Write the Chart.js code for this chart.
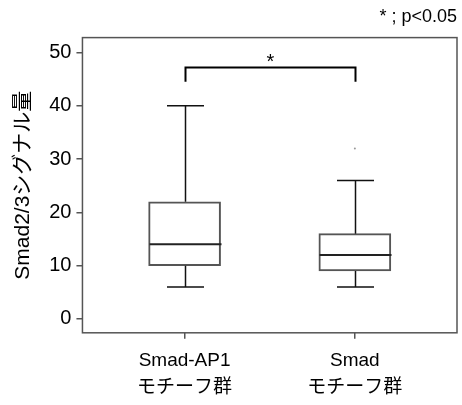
<!DOCTYPE html>
<html>
<head>
<meta charset="utf-8">
<script src="https://cdn.jsdelivr.net/npm/chart.js@4/dist/chart.umd.min.js"></script>
<style>
  body { margin: 0; background: #fff; }
</style>
</head>
<body>
<canvas id="myChart" width="462" height="405"></canvas>
<script>
// box plot values
var groups = [['Smad-AP1', 'モチーフ群'], ['Smad', 'モチーフ群']];
var groupPos = [1, 2];
var whiskerLow = [6, 6];
var q1 = [10, 9];
var median = [14, 12];
var q3 = [22, 16];
var whiskerHigh = [40, 26];
var outliers = [{ x: 2, y: 32 }];
var yTicks = [0, 10, 20, 30, 40, 50];
var sigPair = [1, 2];
var sigLabel = '*';

var FONT = "'Liberation Sans', Arial, 'Noto Sans CJK JP', sans-serif";

window.addEventListener('load', function() {
    var canvas = document.getElementById('myChart');
    var context = canvas.getContext('2d');

    // whiskers, medians, frame and the significance bracket
    var boxExtras = {
        id: 'boxExtras',
        afterDatasetsDraw: function(chart) {
            var x = chart.scales.x, y = chart.scales.y, ctx = chart.ctx;
            var area = chart.chartArea;
            var half = 36, cap = 18.5;
            ctx.save();
            ctx.lineCap = 'butt';
            for (var i = 0; i < groupPos.length; i++) {
                var cx = Math.round(x.getPixelForValue(groupPos[i])) + 0.5;
                ctx.strokeStyle = '#111';
                ctx.lineWidth = 1.5;
                ctx.beginPath();
                // upper whisker and cap
                ctx.moveTo(cx, y.getPixelForValue(q3[i]));
                ctx.lineTo(cx, y.getPixelForValue(whiskerHigh[i]));
                ctx.moveTo(cx - cap, y.getPixelForValue(whiskerHigh[i]));
                ctx.lineTo(cx + cap, y.getPixelForValue(whiskerHigh[i]));
                // lower whisker and cap
                ctx.moveTo(cx, y.getPixelForValue(q1[i]));
                ctx.lineTo(cx, y.getPixelForValue(whiskerLow[i]));
                ctx.moveTo(cx - cap, y.getPixelForValue(whiskerLow[i]));
                ctx.lineTo(cx + cap, y.getPixelForValue(whiskerLow[i]));
                ctx.stroke();
                // median
                ctx.strokeStyle = '#222';
                ctx.lineWidth = 2;
                ctx.beginPath();
                ctx.moveTo(cx - half, y.getPixelForValue(median[i]));
                ctx.lineTo(cx + half, y.getPixelForValue(median[i]));
                ctx.stroke();
            }

            // frame round the plot area
            ctx.strokeStyle = '#555';
            ctx.lineWidth = 1.5;
            ctx.strokeRect(area.left, area.top, area.right - area.left, area.bottom - area.top);

            // significance bracket
            var x1 = Math.round(x.getPixelForValue(sigPair[0])) + 0.5;
            var x2 = Math.round(x.getPixelForValue(sigPair[1])) + 0.5;
            var top = y.getPixelForValue(47.2);
            var leg = y.getPixelForValue(44.5);
            ctx.strokeStyle = '#000';
            ctx.lineWidth = 2;
            ctx.beginPath();
            ctx.moveTo(x1, leg);
            ctx.lineTo(x1, top);
            ctx.lineTo(x2, top);
            ctx.lineTo(x2, leg);
            ctx.stroke();
            ctx.fillStyle = '#000';
            ctx.font = '20px ' + FONT;
            ctx.textAlign = 'center';
            ctx.textBaseline = 'middle';
            ctx.fillText(sigLabel, (x1 + x2) / 2, top - 5);
            ctx.restore();
        }
    };

    var boxData = [];
    for (var i = 0; i < groupPos.length; i++) {
        boxData.push({ x: groupPos[i], y: [q1[i], q3[i]] });
    }

    var chart = new Chart(context, {
        type: 'bar',
        data: {
            datasets: [{
                type: 'scatter',
                data: outliers,
                pointRadius: 1,
                pointBackgroundColor: '#999',
                pointBorderWidth: 0
            }, {
                data: boxData,
                backgroundColor: '#fff',
                borderColor: '#555',
                borderWidth: 2,
                borderSkipped: false,
                barThickness: 72
            }]
        },
        options: {
            responsive: false,
            animation: false,
            layout: { padding: { left: 0, right: 5, top: 0, bottom: -5 } },
            plugins: {
                legend: { display: false },
                tooltip: { enabled: false },
                title: {
                    display: true,
                    text: '* ; p<0.05',
                    align: 'end',
                    color: '#000',
                    font: { family: FONT, size: 18, weight: 'normal' },
                    padding: { top: 6, bottom: 10 }
                }
            },
            scales: {
                x: {
                    type: 'linear',
                    min: 0.4,
                    max: 2.6,
                    offset: false,
                    border: { display: false },
                    grid: { offset: false, drawOnChartArea: false, drawTicks: true, tickLength: 6, color: '#555', lineWidth: 1.5 },
                    afterBuildTicks: function(axis) {
                        axis.ticks = groupPos.map(function(v) { return { value: v }; });
                    },
                    ticks: {
                        autoSkip: false,
                        maxRotation: 0,
                        padding: 9,
                        color: '#000',
                        font: { family: FONT, size: 19, lineHeight: 1.4 },
                        callback: function(value) {
                            var idx = groupPos.indexOf(value);
                            return idx >= 0 ? groups[idx] : '';
                        }
                    }
                },
                y: {
                    min: -2.6,
                    max: 52.8,
                    border: { display: false },
                    grid: { drawOnChartArea: false, drawTicks: true, tickLength: 6, color: '#555', lineWidth: 1.5 },
                    afterBuildTicks: function(axis) {
                        axis.ticks = yTicks.map(function(v) { return { value: v }; });
                    },
                    ticks: {
                        padding: 5,
                        color: '#000',
                        font: { family: FONT, size: 20 }
                    },
                    title: {
                        display: true,
                        text: 'Smad2/3シグナル量',
                        color: '#000',
                        font: { family: FONT, size: 21 },
                        padding: { top: 11, bottom: 8 }
                    }
                }
            }
        },
        plugins: [boxExtras]
    });
});
</script>
</body>
</html>
